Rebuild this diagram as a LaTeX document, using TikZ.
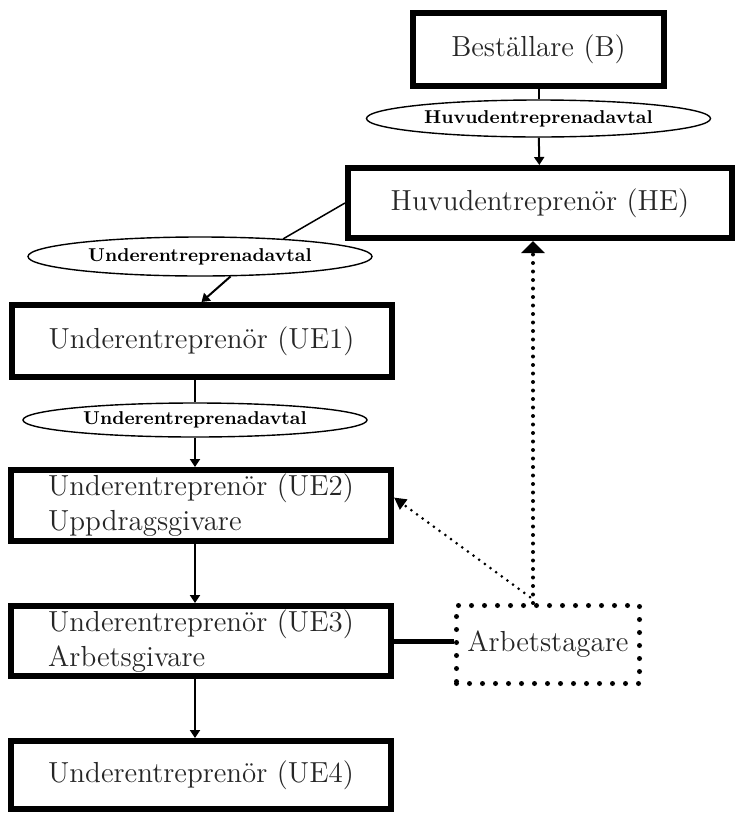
\documentclass[tikz,border=0pt]{standalone}
\usepackage{tikz}
\usetikzlibrary{shapes.geometric,arrows.meta}

\begin{document}
\begin{tikzpicture}[x=0.5pt,y=-0.5pt,
  party/.style = {draw, line width=3pt, inner sep=0pt, align=left, text=black!85,
    font=\fontsize{14.5}{17.5}\selectfont},
  deal/.style = {draw, ellipse, line width=0.7pt, inner sep=0pt, minimum width=172pt,
    minimum height=18.5pt, font=\fontsize{9.3}{11}\selectfont\bfseries},
  worker/.style = {draw, line width=2.5pt, line cap=round, dash pattern=on 0pt off 6.5pt,
    inner sep=0pt, text=black!85, font=\fontsize{14.5}{17.5}\selectfont,
    minimum width=91.5pt, minimum height=39pt},
  link/.style = {line width=1pt, -{Triangle[length=4pt,width=5pt]}}]
  \useasboundingbox (0,0) rectangle (736,814);

  \node[party, minimum width=125.5pt, minimum height=36.5pt] at (538.5,49.5) (b) {Beställare (B)};
  \node[deal] at (538.5,118.5) (av1) {Huvudentreprenadavtal};
  \node[party, minimum width=192pt, minimum height=35pt] at (540,203) (he) {Huvudentreprenör (HE)};
  \node[deal, minimum height=19.5pt] at (200,256.5) (av2) {Underentreprenadavtal};
  \node[party, minimum width=190pt, minimum height=36pt] at (201.5,341) (ue1) {Underentreprenör (UE1)};
  \node[deal, minimum height=17pt] at (195,420) (av3) {Underentreprenadavtal};
  \node[party, minimum width=190pt, minimum height=35.5pt] at (201,505.5) (ue2) {Underentreprenör (UE2)\\Uppdragsgivare};
  \node[party, minimum width=190pt, minimum height=35pt] at (201,641) (ue3) {Underentreprenör (UE3)\\Arbetsgivare};
  \node[party, minimum width=190pt, minimum height=34pt] at (201,775) (ue4) {Underentreprenör (UE4)};
  \node[worker] at (548,644.5) (arb) {Arbetstagare};

  \draw[line width=1pt] (b) -- (av1);
  \draw[link] (av1) -- (he);
  \draw[line width=0.75pt] (he.west) -- (av2.12);
  \draw[link] (av2.-33) -- (ue1.north);
  \draw[line width=1pt] (ue1.south -| av3) -- (av3);
  \draw[link] (av3) -- (av3 |- ue2.north);
  \draw[link] (ue2.south -| av3) -- (av3 |- ue3.north);
  \draw[link] (ue3.south -| av3) -- (av3 |- ue4.north);
  \draw[line width=2.5pt] (ue3.east) -- (ue3.east -| arb.west);
  \draw[line width=2pt, line cap=round, dash pattern=on 0pt off 4.25pt,
    -{Triangle[length=6pt,width=11.5pt]}] ([xshift=-7.5pt]arb.north) -- ([xshift=-7.5pt]arb.north |- he.south);
  \draw[line width=1.5pt, line cap=round, dash pattern=on 0pt off 3.5pt,
    -{Triangle[length=6pt,width=6pt]}] ([xshift=-9pt,yshift=3pt]arb.north) -- ([yshift=4pt]ue2.east);
\end{tikzpicture}
\end{document}
